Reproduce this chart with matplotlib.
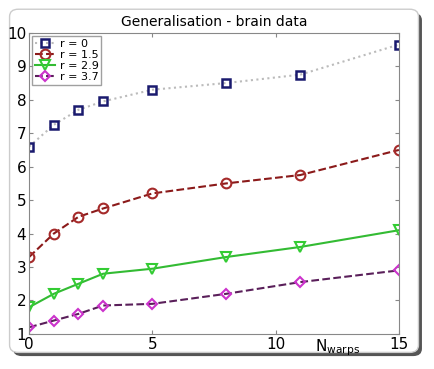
import matplotlib
matplotlib.use("Agg")
import matplotlib.pyplot as plt
from matplotlib.patches import FancyBboxPatch

x = [0, 1, 2, 3, 5, 8, 11, 15]
r0 = [6.6, 7.25, 7.7, 7.95, 8.3, 8.5, 8.75, 9.65]
r15 = [3.3, 4.0, 4.5, 4.75, 5.2, 5.5, 5.75, 6.5]
r29 = [1.8, 2.2, 2.5, 2.8, 2.95, 3.3, 3.6, 4.1]
r37 = [1.2, 1.4, 1.6, 1.85, 1.9, 2.2, 2.55, 2.9]
labels = ["r = 0", "r = 1.5", "r = 2.9", "r = 3.7"]
xticks = [0, 5, 10, 15]
yticks = [1, 2, 3, 4, 5, 6, 7, 8, 9, 10]

fig = plt.figure(figsize=(4.35, 3.69), dpi=100)
fig.patch.set_facecolor("white")
# shadow and frame
fig.patches.append(FancyBboxPatch((0.03, 0.035), 0.94, 0.93, boxstyle="round,pad=0,rounding_size=0.02",
                                  transform=fig.transFigure, facecolor="#555555", edgecolor="none", zorder=-2))
fig.patches.append(FancyBboxPatch((0.022, 0.045), 0.94, 0.93, boxstyle="round,pad=0,rounding_size=0.02",
                                  transform=fig.transFigure, facecolor="white", edgecolor="#cccccc", zorder=-1))

ax = fig.add_axes([0.067, 0.095, 0.85, 0.816])
ax.set_zorder(5)
ax.set_facecolor("white")
ax.plot(x, r0, color="#bbbbbb", linestyle=":", linewidth=1.5, marker="s", markersize=6,
        markerfacecolor="none", markeredgecolor="#1a1a6e", markeredgewidth=1.8, label=labels[0])
ax.plot(x, r15, color="#8b1a1a", linestyle="--", linewidth=1.5, marker="o", markersize=7,
        markerfacecolor="none", markeredgecolor="#a52a2a", markeredgewidth=1.5, label=labels[1])
ax.plot(x, r29, color="#33bb33", linestyle="-", linewidth=1.5, marker="v", markersize=7,
        markerfacecolor="none", markeredgecolor="#33cc33", markeredgewidth=1.5, label=labels[2])
ax.plot(x, r37, color="#5a1f5a", linestyle="--", linewidth=1.5, marker="D", markersize=5.5,
        markerfacecolor="none", markeredgecolor="#cc33cc", markeredgewidth=1.5, label=labels[3])

ax.set_xlim(0, 15)
ax.set_ylim(1, 10)
ax.set_xticks(xticks)
ax.set_yticks(yticks)
ax.tick_params(direction="in", top=True, right=True, labelsize=11, length=3, color="#888888", pad=2)
for s in ax.spines.values():
    s.set_color("#888888")
ax.set_title("Generalisation - brain data", fontsize=10, pad=5)
ax.annotate(r"N$_{\mathrm{warps}}$", xy=(11.6, -0.012), xycoords=("data", "axes fraction"),
            fontsize=11, ha="left", va="top", annotation_clip=False)
leg = ax.legend(loc="upper left", fontsize=8, frameon=True, fancybox=False, borderpad=0.25,
                labelspacing=0.1, handlelength=1.8, handletextpad=0.4, borderaxespad=0.3)
leg.get_frame().set_edgecolor("#888888")
leg.get_frame().set_linewidth(1.0)
fig.savefig("out.png", dpi=100)
